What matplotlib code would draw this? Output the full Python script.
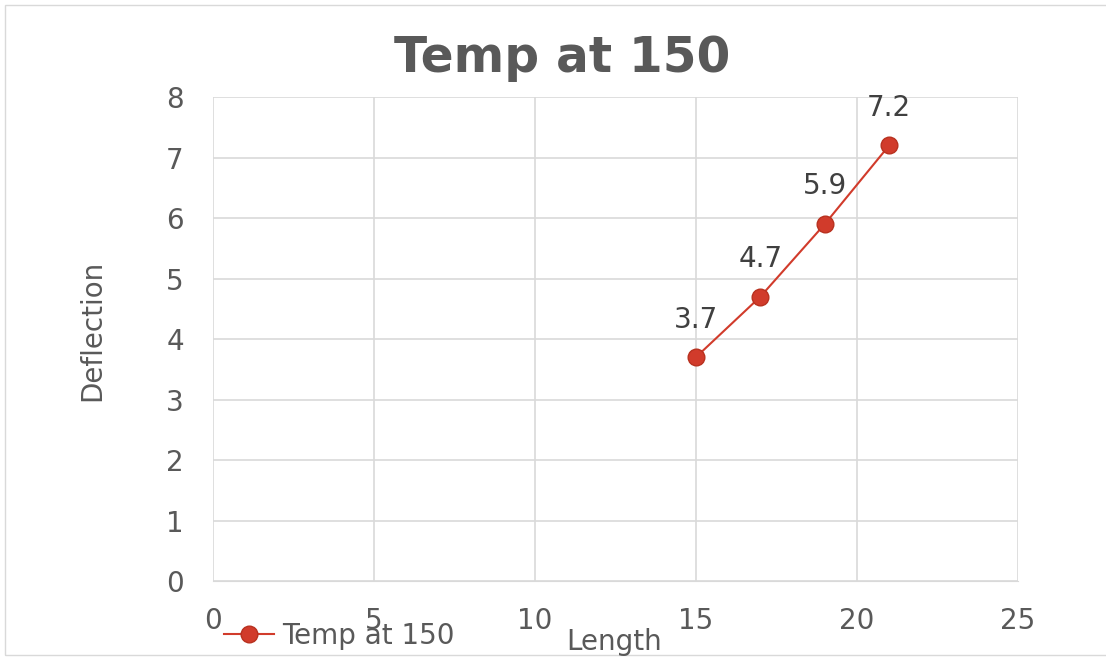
import matplotlib
matplotlib.use("Agg")
from matplotlib import pyplot as plt
from matplotlib.patches import Rectangle

length = [15, 17, 19, 21]
deflection = [3.7, 4.7, 5.9, 7.2]
series_name = 'Temp at 150'

red = '#d13b2b'
grey = '#595959'

fig = plt.figure(figsize=(11.06, 6.6), dpi=100)
ax = fig.add_axes([0.1926, 0.1197, 0.7278, 0.7333])

ax.plot(length, deflection, color=red, linewidth=1.5, marker='o',
        markersize=12, markeredgecolor='#b8311f', label=series_name)
for x, y in zip(length, deflection):
    ax.annotate(f'{y}', (x, y), xytext=(0, 17), textcoords='offset points',
                ha='center', va='bottom', fontsize=20, color='#404040')

ax.set_xlim(0, 25)
ax.set_ylim(0, 8)
ax.set_xticks(range(0, 26, 5))
ax.set_yticks(range(0, 9))
ax.grid(True, color='#d9d9d9', linewidth=1.2)
ax.set_axisbelow(True)
for s in ['top', 'right', 'left']:
    ax.spines[s].set_visible(False)
ax.spines['bottom'].set_color('#d9d9d9')
ax.tick_params(length=0, labelsize=20, labelcolor=grey)
ax.tick_params(axis='y', pad=21)
ax.tick_params(axis='x', pad=19)

fig.text(0.508, 0.912, series_name, ha='center', va='center', fontsize=35,
         fontweight='bold', color=grey)
fig.text(0.555, 0.028, 'Length', ha='center', va='center', fontsize=20, color=grey)
fig.text(0.083, 0.5, 'Deflection', ha='center', va='center', rotation=90,
         fontsize=20, color=grey)

fig.legend(loc='center left', bbox_to_anchor=(0.18, 0.037), frameon=False,
           fontsize=20, labelcolor=grey, handlelength=1.8, handletextpad=0.3)

fig.patches.append(Rectangle((5 / 1106, 5 / 660), 1.1, 1 - 10 / 660, transform=fig.transFigure,
                             fill=False, edgecolor='#d9d9d9', linewidth=1))

fig.savefig('out.png', dpi=100)
